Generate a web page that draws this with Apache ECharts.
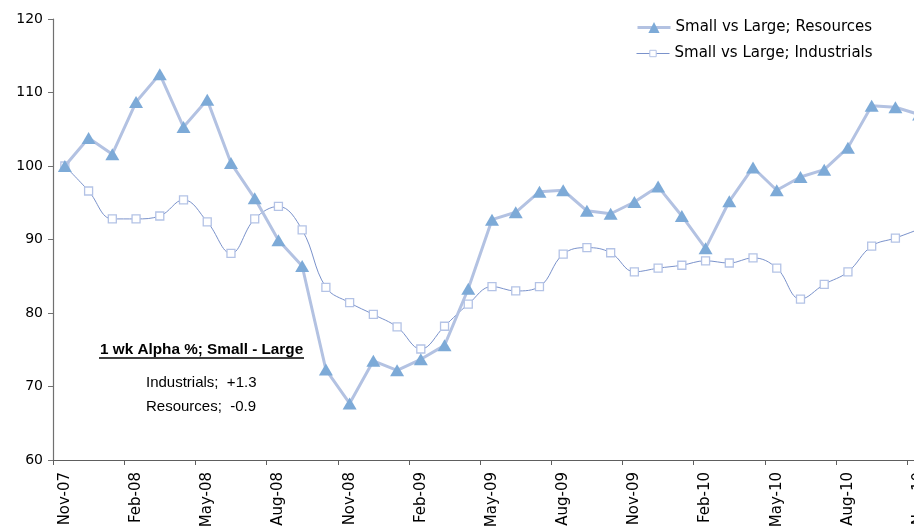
<!DOCTYPE html>
<html>
<head>
<meta charset="utf-8">
<script src="https://cdn.jsdelivr.net/npm/echarts@6/dist/echarts.min.js"></script>
<style>
html,body{margin:0;padding:0;background:#fff;overflow:hidden;width:914px;height:526px;}
#chart{width:940px;height:526px;}
</style>
</head>
<body>
<div id="chart"></div>
<script>
var months = ['Nov-07','Dec-07','Jan-08','Feb-08','Mar-08','Apr-08','May-08','Jun-08','Jul-08','Aug-08',
  'Sep-08','Oct-08','Nov-08','Dec-08','Jan-09','Feb-09','Mar-09','Apr-09','May-09','Jun-09',
  'Jul-09','Aug-09','Sep-09','Oct-09','Nov-09','Dec-09','Jan-10','Feb-10','Mar-10','Apr-10',
  'May-10','Jun-10','Jul-10','Aug-10','Sep-10','Oct-10','Nov-10'];
var resources = [100.0,103.8,101.6,108.7,112.5,105.3,109.0,100.4,95.6,89.9,
  86.4,72.3,67.7,73.5,72.2,73.7,75.6,83.3,92.7,93.7,
  96.5,96.7,93.9,93.5,95.1,97.2,93.2,88.8,95.2,99.8,
  96.7,98.5,99.5,102.5,108.2,108.0,107.0];
var industrials = [100.0,96.6,92.8,92.8,93.2,95.4,92.4,88.1,92.8,94.5,
  91.3,83.5,81.4,79.8,78.1,75.1,78.2,81.2,83.6,83.0,
  83.6,88.0,88.9,88.2,85.6,86.1,86.5,87.1,86.8,87.5,
  86.1,81.9,83.9,85.6,89.1,90.2,91.4];
var seriesNames = ['Small vs Large; Resources', 'Small vs Large; Industrials'];
var noteTitle = '1 wk Alpha %; Small - Large';
var noteLines = ['Industrials;  +1.3', 'Resources;  -0.9'];

var resLine = '#b3c2e2', resMark = '#7daad7';
var indLine = '#7a92cb', indMark = '#b4c3e6';

var chart = echarts.init(document.getElementById('chart'), null, {renderer: 'canvas'});
var axisFont = 'DejaVu Sans, Verdana, sans-serif';
var legendText = {fontFamily: axisFont, fontSize: 15, color: '#000', lineHeight: 14};
chart.setOption({
  animation: false,
  backgroundColor: '#ffffff',
  grid: {left: 53, top: 19, width: 878, height: 441, containLabel: false, outerBoundsMode: 'none'},
  legend: [
    {
      data: [seriesNames[0]],
      orient: 'vertical', left: 636, top: 20, padding: 0,
      itemWidth: 33, itemHeight: 14,
      textStyle: legendText,
      lineStyle: {color: resLine, width: 3},
      itemStyle: {color: resMark}
    },
    {
      data: [seriesNames[1]],
      orient: 'vertical', left: 636, top: 46, padding: 0,
      itemWidth: 33, itemHeight: 8,
      textStyle: legendText,
      lineStyle: {color: indLine, width: 1},
      itemStyle: {color: '#ffffff', borderColor: indMark, borderWidth: 1}
    }
  ],
  xAxis: {
    type: 'category',
    data: months,
    boundaryGap: true,
    axisLine: {show: true, lineStyle: {color: '#5e5e5e', width: 1.2}},
    axisTick: {show: true, interval: 2, length: 5, alignWithLabel: false, lineStyle: {color: '#5e5e5e'}},
    axisLabel: {interval: 2, rotate: 90, margin: 12, fontFamily: axisFont, fontSize: 15, color: '#000', hideOverlap: false},
    splitLine: {show: false}
  },
  yAxis: {
    type: 'value',
    min: 60, max: 120, interval: 10,
    axisLine: {show: true, lineStyle: {color: '#707070', width: 1.2}},
    axisTick: {show: true, length: 5, lineStyle: {color: '#707070'}},
    axisLabel: {margin: 10, fontFamily: axisFont, fontSize: 14, color: '#000'},
    splitLine: {show: false}
  },
  series: [
    {
      name: seriesNames[1],
      type: 'line',
      data: industrials,
      smooth: 0.4,
      symbol: 'rect',
      symbolSize: 8,
      showAllSymbol: true,
      itemStyle: {color: '#ffffff', borderColor: indMark, borderWidth: 1.3},
      lineStyle: {color: indLine, width: 1},
      z: 2
    },
    {
      name: seriesNames[0],
      type: 'line',
      data: resources,
      symbol: 'triangle',
      symbolSize: [14, 12],
      showAllSymbol: true,
      itemStyle: {color: resMark},
      lineStyle: {color: resLine, width: 3},
      z: 3
    }
  ],
  graphic: [
    {type: 'text', left: 100, top: 342, style: {text: noteTitle, font: 'bold 15.3px "Liberation Sans", Arial, sans-serif', fill: '#000'}},
    {type: 'line', shape: {x1: 99, y1: 358, x2: 304, y2: 358}, style: {stroke: '#000', lineWidth: 1.5}},
    {type: 'text', left: 146, top: 375, style: {text: noteLines[0], font: '15px "Liberation Sans", Arial, sans-serif', fill: '#000'}},
    {type: 'text', left: 146, top: 399, style: {text: noteLines[1], font: '15px "Liberation Sans", Arial, sans-serif', fill: '#000'}}
  ]
});
</script>
</body>
</html>
